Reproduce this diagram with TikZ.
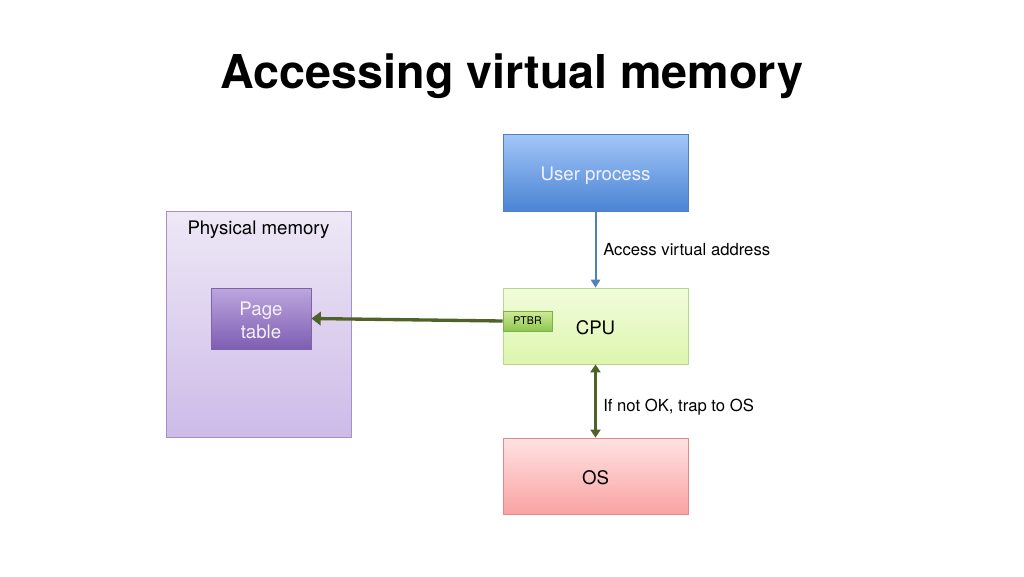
\documentclass[tikz,border=0pt]{standalone}
\usepackage{fontspec}
\setmainfont{TeX Gyre Heros}
\usetikzlibrary{arrows.meta}
\definecolor{upTop}{HTML}{A3C6F8}
\definecolor{upBot}{HTML}{4A84D4}
\definecolor{upLine}{HTML}{4F81BD}
\definecolor{pmTop}{HTML}{EEE8F6}
\definecolor{pmBot}{HTML}{CDBBE8}
\definecolor{pmLine}{HTML}{A591C6}
\definecolor{ptTop}{HTML}{BCA6E0}
\definecolor{ptBot}{HTML}{7E5EB2}
\definecolor{ptLine}{HTML}{8064A2}
\definecolor{cpuTop}{HTML}{F2FCDC}
\definecolor{cpuBot}{HTML}{DDF6AE}
\definecolor{cpuLine}{HTML}{B8D88E}
\definecolor{pbTop}{HTML}{CDEB95}
\definecolor{pbBot}{HTML}{8FC653}
\definecolor{pbLine}{HTML}{7FAF48}
\definecolor{osTop}{HTML}{FFE2E2}
\definecolor{osBot}{HTML}{F9A3A3}
\definecolor{osLine}{HTML}{E08A8A}
\definecolor{olive}{HTML}{4F6228}
\definecolor{blueArrow}{HTML}{4F81BD}
\newcommand{\dn}[2]{\raisebox{-#1}[\height][\depth]{#2}}
\tikzset{
  box/.style={rectangle, inner sep=0pt, line width=0.6pt},
  txt/.style={font=\fontsize{14}{16}\selectfont},
  lbl/.style={font=\fontsize{12.5}{14}\selectfont, anchor=west, inner sep=0pt},
}
\begin{document}
\begin{tikzpicture}[x=0.75pt, y=-0.75pt]
\useasboundingbox (0,0) rectangle (1024,576);
\node[font=\bfseries\fontsize{35}{40}\selectfont] (title) at (512,76) {Accessing virtual memory};
% physical memory
\node[box, draw=pmLine, top color=pmTop, bottom color=pmBot, minimum width=185*0.75pt, minimum height=226*0.75pt] (pm) at (258.5,324) {};
\node[txt, anchor=north] (pmlbl) at (258.5,216) {Physical memory};
\node[box, draw=ptLine, top color=ptTop, bottom color=ptBot, minimum width=100*0.75pt, minimum height=61*0.75pt, text=white!94!violet, font=\fontsize{14}{17}\selectfont] (pt) at (261,318.5) {\dn{1.5pt}{\shortstack{Page\\[1pt]table}}};
% user process
\node[box, draw=upLine, top color=upTop, bottom color=upBot, minimum width=185*0.75pt, minimum height=77*0.75pt, txt, text=white!95!blue] (up) at (595.5,172.5) {\dn{2.5pt}{User process}};
% CPU
\node[box, draw=cpuLine, top color=cpuTop, bottom color=cpuBot, minimum width=185*0.75pt, minimum height=76*0.75pt, txt] (cpu) at (595.5,326) {\dn{1pt}{CPU}};
\node[box, draw=pbLine, top color=pbTop, bottom color=pbBot, minimum width=49*0.75pt, minimum height=20*0.75pt, font=\fontsize{8}{9}\selectfont] (ptbr) at (527.5,321) {PTBR};
% OS
\node[box, draw=osLine, top color=osTop, bottom color=osBot, minimum width=185*0.75pt, minimum height=76*0.75pt, txt] (os) at (595.5,476) {\dn{1.5pt}{OS}};
% connectors
\draw[blueArrow, line width=1.5pt, -{Triangle[length=6pt,width=7pt]}] (up.south) -- (cpu.north);
\node[lbl] (l1) at (603,250) {Access virtual address};
\draw[olive, line width=2.5pt, -{Triangle[length=7pt,width=10pt]}] (ptbr.west) -- (pt.east);
\draw[olive, line width=1.7pt, {Triangle[length=6pt,width=7.5pt]}-{Triangle[length=6pt,width=7.5pt]}] (cpu.south) -- (os.north);
\node[lbl] (l2) at (603,407) {If not OK, trap to OS};
\end{tikzpicture}
\end{document}
